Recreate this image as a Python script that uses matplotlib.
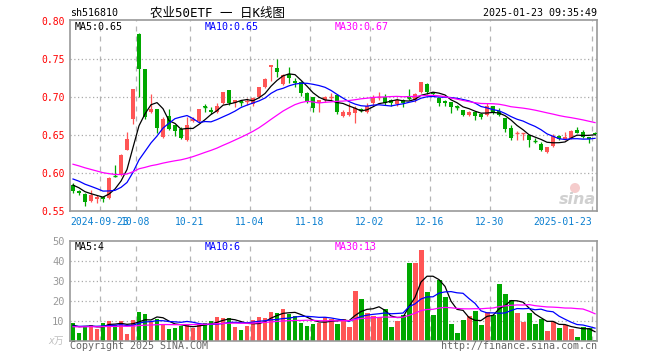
import numpy as np
import pandas as pd
import matplotlib
matplotlib.use('Agg')
import matplotlib.pyplot as plt
from matplotlib.patches import Ellipse

plt.rcParams['font.family'] = ['DejaVu Sans Mono', 'Noto Sans CJK SC']

# trading days in the window
holidays = ['2024-09-16', '2024-09-17', '2024-10-01', '2024-10-02', '2024-10-03',
            '2024-10-04', '2024-10-07', '2025-01-01']
days = pd.bdate_range('2024-09-12', '2025-01-23')
days = days[~days.isin(pd.to_datetime(holidays))]

opens = [0.585, 0.5766, 0.5727, 0.5634, 0.5656, 0.569, 0.5675, 0.597, 0.598, 0.631,
         0.671, 0.783, 0.737, 0.681, 0.685, 0.648, 0.675, 0.663, 0.658, 0.644,
         0.669, 0.669, 0.688, 0.683, 0.681, 0.692, 0.710, 0.693, 0.695, 0.694,
         0.691, 0.700, 0.714, 0.740, 0.738, 0.717, 0.731, 0.721, 0.720, 0.705,
         0.700, 0.692, 0.696, 0.700, 0.703, 0.6755, 0.677, 0.679, 0.684, 0.681,
         0.692, 0.700, 0.701, 0.697, 0.691, 0.697, 0.6998, 0.6965, 0.7075, 0.718,
         0.7066, 0.6996, 0.6945, 0.6934, 0.688, 0.683, 0.677, 0.681, 0.6776, 0.677,
         0.6886, 0.6825, 0.6725, 0.659, 0.6525, 0.6525, 0.6505, 0.643, 0.638, 0.6285,
         0.6364, 0.649, 0.6447, 0.646, 0.657, 0.6548, 0.6474, 0.6535]
highs = [0.587, 0.578, 0.5735, 0.578, 0.571, 0.570, 0.595, 0.611, 0.625, 0.654,
         0.711, 0.784, 0.737, 0.704, 0.685, 0.674, 0.685, 0.664, 0.661, 0.674,
         0.674, 0.685, 0.691, 0.687, 0.693, 0.707, 0.710, 0.697, 0.6965, 0.699,
         0.701, 0.713, 0.725, 0.743, 0.750, 0.731, 0.7395, 0.725, 0.721, 0.707,
         0.701, 0.697, 0.702, 0.705, 0.704, 0.683, 0.693, 0.689, 0.6864, 0.693,
         0.703, 0.7075, 0.704, 0.698, 0.699, 0.698, 0.7105, 0.705, 0.7197, 0.719,
         0.7075, 0.6996, 0.696, 0.6934, 0.690, 0.6835, 0.682, 0.682, 0.679, 0.692,
         0.689, 0.6855, 0.673, 0.6636, 0.655, 0.653, 0.651, 0.646, 0.6417, 0.634,
         0.6513, 0.650, 0.6548, 0.657, 0.6614, 0.657, 0.648, 0.6548]
lows = [0.5735, 0.572, 0.5573, 0.5625, 0.5612, 0.5622, 0.566, 0.595, 0.597, 0.630,
        0.665, 0.701, 0.671, 0.679, 0.653, 0.647, 0.657, 0.649, 0.645, 0.642,
        0.667, 0.667, 0.681, 0.678, 0.679, 0.691, 0.690, 0.687, 0.688, 0.690,
        0.688, 0.699, 0.712, 0.721, 0.727, 0.716, 0.719, 0.714, 0.702, 0.693,
        0.681, 0.680, 0.694, 0.696, 0.678, 0.6735, 0.675, 0.6667, 0.680, 0.679,
        0.6886, 0.697, 0.690, 0.6886, 0.689, 0.6877, 0.697, 0.694, 0.706, 0.704,
        0.702, 0.689, 0.6886, 0.6798, 0.6833, 0.675, 0.676, 0.670, 0.6715, 0.676,
        0.6776, 0.676, 0.654, 0.644, 0.644, 0.644, 0.634, 0.6395, 0.6295, 0.627,
        0.635, 0.644, 0.644, 0.645, 0.6526, 0.646, 0.6403, 0.650]
closes = [0.577, 0.574, 0.5625, 0.5718, 0.569, 0.566, 0.594, 0.596, 0.624, 0.645,
          0.711, 0.737, 0.674, 0.684, 0.659, 0.671, 0.658, 0.656, 0.646, 0.664,
          0.671, 0.685, 0.687, 0.680, 0.689, 0.707, 0.693, 0.696, 0.694, 0.695,
          0.699, 0.713, 0.724, 0.742, 0.733, 0.729, 0.726, 0.719, 0.705, 0.694,
          0.686, 0.6965, 0.701, 0.701, 0.681, 0.680, 0.680, 0.6865, 0.683, 0.688,
          0.700, 0.701, 0.693, 0.693, 0.697, 0.693, 0.6993, 0.704, 0.7197, 0.7066,
          0.704, 0.693, 0.692, 0.6877, 0.6875, 0.677, 0.681, 0.6755, 0.6746, 0.6886,
          0.681, 0.677, 0.658, 0.646, 0.6527, 0.653, 0.644, 0.6425, 0.6307, 0.634,
          0.6495, 0.6447, 0.6473, 0.656, 0.6535, 0.6474, 0.6456, 0.6513]
# volume, 万
volumes = [9.0, 4.0, 7.3, 8.0, 6.0, 9.0, 10.0, 8.0, 10.0, 3.5,
           10.5, 14.5, 13.5, 9.5, 11.0, 8.5, 6.0, 6.5, 7.5, 8.0,
           6.5, 8.0, 9.0, 10.0, 12.0, 11.5, 11.5, 7.0, 5.5, 7.5,
           10.5, 12.0, 11.5, 14.5, 14.0, 16.0, 13.5, 12.5, 9.0, 7.5,
           8.5, 9.0, 12.0, 11.0, 8.5, 11.0, 7.0, 25.0, 21.0, 14.0,
           12.5, 12.0, 16.0, 7.0, 10.0, 13.0, 39.0, 39.0, 45.5, 24.5,
           13.0, 30.5, 22.0, 8.5, 4.0, 10.5, 12.5, 15.0, 8.0, 14.5,
           13.0, 28.5, 23.5, 20.5, 14.0, 9.5, 14.0, 8.5, 11.0, 5.0,
           9.5, 6.5, 8.0, 6.0, 2.0, 7.0, 6.5, 0.5]

# sessions before the window, only needed for the moving averages
prev_closes = [0.640, 0.638, 0.636, 0.633, 0.630, 0.632, 0.628, 0.626, 0.625, 0.622,
               0.620, 0.618, 0.619, 0.615, 0.612, 0.610, 0.612, 0.608, 0.606, 0.603,
               0.603, 0.602, 0.600, 0.599, 0.5985, 0.592, 0.588, 0.585, 0.5805]
prev_volumes = [6.0, 7.0, 5.5, 8.0, 6.5, 7.0, 9.0, 6.0, 5.0, 7.5, 6.0, 8.0, 7.0, 6.5, 5.5,
                7.0, 8.5, 6.0, 7.0, 6.5, 5.0, 7.0, 8.0, 6.0, 7.5, 8.0, 6.5, 7.0, 8.0]

tick_days = ['2024-09-23', '2024-10-08', '2024-10-21', '2024-11-04', '2024-11-18',
             '2024-12-02', '2024-12-16', '2024-12-30', '2025-01-23']
ma_periods = [5, 10, 30]
ma_colors = ['black', '#0000ff', '#ff00ff']


def moving_avg(vals, prev, n):
    s = pd.Series(list(prev) + list(vals)).rolling(n).mean()
    return s.values[len(prev):]


o, h, l, c = map(np.array, (opens, highs, lows, closes))
v = np.array(volumes)
x = np.arange(len(c))
up = c >= o
col = np.where(up, '#ff5555', '#00a800')

W, H = 660, 360
fig = plt.figure(figsize=(6.6, 3.6), dpi=100)


def box(x0, y0, x1, y1):
    return [x0 / W, 1 - y1 / H, (x1 - x0) / W, (y1 - y0) / H]


ax = fig.add_axes(box(70, 20, 597, 211.3))
axv = fig.add_axes(box(70, 240.7, 597, 340.5))

tick_pos = [days.get_loc(pd.Timestamp(d)) - 0.5 for d in tick_days]
tick_lbl = [d if i in (0, len(tick_days) - 1) else d[5:] for i, d in enumerate(tick_days)]

for a in (ax, axv):
    a.set_xlim(-0.5, 87.33)
    for s in a.spines.values():
        s.set_color('#999999')
        s.set_linewidth(1.2)
    for p in tick_pos:
        a.axvline(p, color='#b4b4b4', lw=0.9, ls=(0, (4, 4)), zorder=0)
    a.tick_params(length=0)

# price panel
ax.set_ylim(0.55, 0.8017)
for g in [0.60, 0.65, 0.70, 0.75]:
    ax.axhline(g, color='#aaaaaa', lw=0.9, ls=(0, (1, 2)), zorder=0)
ax.vlines(x, l, h, colors=col, lw=0.9, zorder=2)
ax.bar(x, np.abs(c - o), bottom=np.minimum(o, c), width=0.8, color=col, lw=0, zorder=3)
flat = np.abs(c - o) < 0.0015
ax.hlines(c[flat], x[flat] - 0.4, x[flat] + 0.4, colors=col[flat], lw=1.0, zorder=3)
price_ma = []
for n, mc in zip(ma_periods, ma_colors):
    m = moving_avg(c, prev_closes, n)
    price_ma.append(m)
    ax.plot(x, m, color=mc, lw=0.9, zorder=4)
ax.set_yticks([0.55, 0.60, 0.65, 0.70, 0.75, 0.80])
ax.set_yticklabels(['%.2f' % t for t in [0.55, 0.60, 0.65, 0.70, 0.75, 0.80]],
                   color='#ff0000', fontsize=7)
ax.tick_params(axis='y', pad=4)
ax.set_xticks(tick_pos)
ax.set_xticklabels(tick_lbl, color='#0a7fd0', fontsize=7)
ax.tick_params(axis='x', pad=4)
ax.get_xticklabels()[-1].set_ha('right')

# volume panel
axv.set_ylim(0, 50)
for g in [10, 20, 30, 40]:
    axv.axhline(g, color='#aaaaaa', lw=0.9, ls=(0, (1, 2)), zorder=0)
axv.bar(x, v, width=0.83, color=col, lw=0, zorder=2)
vol_ma = []
for n, mc in zip(ma_periods, ma_colors):
    m = moving_avg(v, prev_volumes, n)
    vol_ma.append(m)
    axv.plot(x, m, color=mc, lw=0.9, zorder=3)
axv.set_yticks([10, 20, 30, 40, 50])
axv.set_yticklabels(['10', '20', '30', '40', '50'], color='#999999', fontsize=7.5)
axv.tick_params(axis='y', pad=4)
axv.set_xticks([])


def t(px_x, px_y, s, **kw):
    fig.text(px_x / W, 1 - px_y / H, s, va='center', **kw)


t(70, 13, 'sh516810', fontsize=7.2)
t(150, 13, '农业50ETF 一 日K线图', fontsize=9)
t(597, 13, '2025-01-23 09:35:49', fontsize=7.2, ha='right')

for xx, n, mc, m in zip([75, 205, 335], ma_periods, ma_colors, price_ma):
    t(xx, 26.5, 'MA%d:%.2f' % (n, m[-1]), fontsize=7.2, color=mc)
for xx, n, mc, m in zip([75, 205, 335], ma_periods, ma_colors, vol_ma):
    t(xx, 246.5, 'MA%d:%.0f' % (n, m[-1]), fontsize=7.2, color=mc)

t(48, 341, 'x万', fontsize=7, color='#c0c0c0', style='italic')
t(70, 346, 'Copyright 2025 SINA.COM', fontsize=7.2, color='#666666')
t(597, 346, 'http://finance.sina.com.cn', fontsize=7.2, color='#666666', ha='right')

# sina watermark
fig.patches.append(Ellipse((575 / W, 1 - 188 / H), 10 / W, 10 / H,
                           transform=fig.transFigure, facecolor='#f5cccc',
                           edgecolor='none', figure=fig))
t(577, 199, 'sina', fontsize=11.5, color='#d0d0d0', ha='center', style='italic',
  weight='bold', family='DejaVu Sans')

fig.savefig('out.png', dpi=100)
